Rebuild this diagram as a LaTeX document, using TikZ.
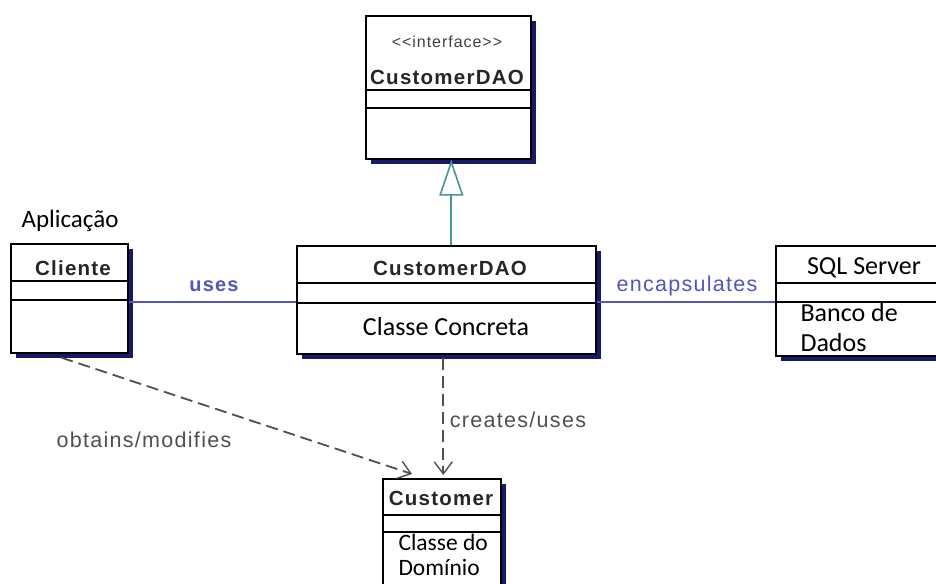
\documentclass[tikz,border=0pt]{standalone}
\usepackage{fontspec}
\setmainfont{Liberation Sans}
\newfontfamily\calfont{Carlito}
\newfontfamily\umlfont[LetterSpace=6]{Liberation Sans}
\usetikzlibrary{arrows.meta,shadows,calc}
\definecolor{shadowc}{RGB}{25,25,105}
\definecolor{assoc}{RGB}{85,85,190}
\definecolor{gen}{RGB}{70,150,150}
\definecolor{dep}{RGB}{80,80,80}
\begin{document}
\begin{tikzpicture}[x=1pt,y=-1pt,
  umlbox/.style={draw=black, line width=1.6pt, fill=white, anchor=north west, inner sep=0pt,
    drop shadow={shadow xshift=5pt, shadow yshift=-5pt, fill=shadowc, opacity=1}},
  sep/.style={draw=black, line width=1.3pt},
  title/.style={font=\umlfont\bfseries\fontsize{20.5}{24}\selectfont, text=black!85},
  ctext/.style={font=\calfont\fontsize{26}{30}\selectfont},
  asc/.style={draw=assoc, line width=1.6pt},
  asclabel/.style={font=\umlfont\bfseries\fontsize{20}{24}\selectfont, text=assoc},
  deparrow/.style={draw=dep, line width=1.8pt, dash pattern=on 12pt off 6pt,
    -{Straight Barb[length=12pt,width=18pt,line width=1.4pt]}},
  deplabel/.style={font=\umlfont\fontsize{21.5}{25}\selectfont, text=dep}
]
\useasboundingbox (0,0) rectangle (936,583);
\clip (0,0) rectangle (936,583);
\fill[white] (0,0) rectangle (936,583);

% interface box
\node[umlbox, minimum width=165pt, minimum height=143pt] (iface) at (365,15) {};
\draw[sep] (iface.west |- 0,90) -- (iface.east |- 0,90);
\draw[sep] (iface.west |- 0,108) -- (iface.east |- 0,108);
\node[font=\umlfont\fontsize{16}{19}\selectfont, text=black!75] (stereo) at (447,42) {<<interface>>};
\node[title] (ifacename) at (447,77) {CustomerDAO};

% Cliente
\node[font=\calfont\fontsize{25}{29}\selectfont] (app) at (70,221) {Aplicação};
\node[umlbox, minimum width=117pt, minimum height=109pt] (cli) at (10,243) {};
\draw[sep] (cli.west |- 0,281) -- (cli.east |- 0,281);
\draw[sep] (cli.west |- 0,300) -- (cli.east |- 0,300);
\node[title] (cliname) at (73,268) {Cliente};

% CustomerDAO
\node[umlbox, minimum width=299pt, minimum height=108pt] (dao) at (296,245) {};
\draw[sep] (dao.west |- 0,283) -- (dao.east |- 0,283);
\draw[sep] (dao.west |- 0,303) -- (dao.east |- 0,303);
\node[title] (daoname) at (450,268) {CustomerDAO};
\node[ctext] (daotext) at (446,327) {Classe Concreta};

% SQL Server
\node[umlbox, minimum width=200pt, minimum height=110pt] (sql) at (775,245) {};
\draw[sep] (sql.west |- 0,283) -- (sql.east |- 0,283);
\draw[sep] (sql.west |- 0,302) -- (sql.east |- 0,302);
\node[ctext] (sqlname) at (864,268) {SQL Server};
\node[ctext, anchor=west] (sqltext1) at (797,313) {Banco de};
\node[ctext, anchor=west] (sqltext2) at (797,343) {Dados};

% Customer
\node[umlbox, minimum width=118pt, minimum height=130pt] (cust) at (382,478) {};
\draw[sep] (cust.west |- 0,515) -- (cust.east |- 0,515);
\draw[sep] (cust.west |- 0,532) -- (cust.east |- 0,532);
\node[title] (custname) at (441,498) {Customer};
\node[ctext, font=\calfont\fontsize{23.5}{27}\selectfont, anchor=west] (custtext1) at (395,542) {Classe do};
\node[ctext, font=\calfont\fontsize{23.5}{27}\selectfont, anchor=west] (custtext2) at (395,567) {Domínio};

% associations
\draw[asc] (cli.east |- 0,302) -- (dao.west |- 0,302);
\node[asclabel] (uses) at (214,286) {uses};
\draw[asc] (dao.east |- 0,302) -- (sql.west |- 0,302);
\node[asclabel, font=\umlfont\fontsize{21.5}{25}\selectfont] (enc) at (687,286) {encapsulates};

% generalization
\draw[draw=gen, line width=1.8pt, -{Triangle[open, length=36pt, width=24pt, line width=1.6pt]}]
  ($(iface.south |- dao.north)+(3,0)$) -- ($(iface.south)+(3,0)$);

% dependencies
\draw[deparrow] ($(cli.south)+(-8,4)$) -- ($(cust.north west)+(30,-4)$);
\node[deplabel] (obt) at (144,440) {obtains/modifies};
\draw[deparrow] ($(dao.south)+(-3,3)$) -- ($(dao.south |- cust.north)+(-3,-3)$);
\node[deplabel] (cre) at (518,420) {creates/uses};
\end{tikzpicture}
\end{document}
